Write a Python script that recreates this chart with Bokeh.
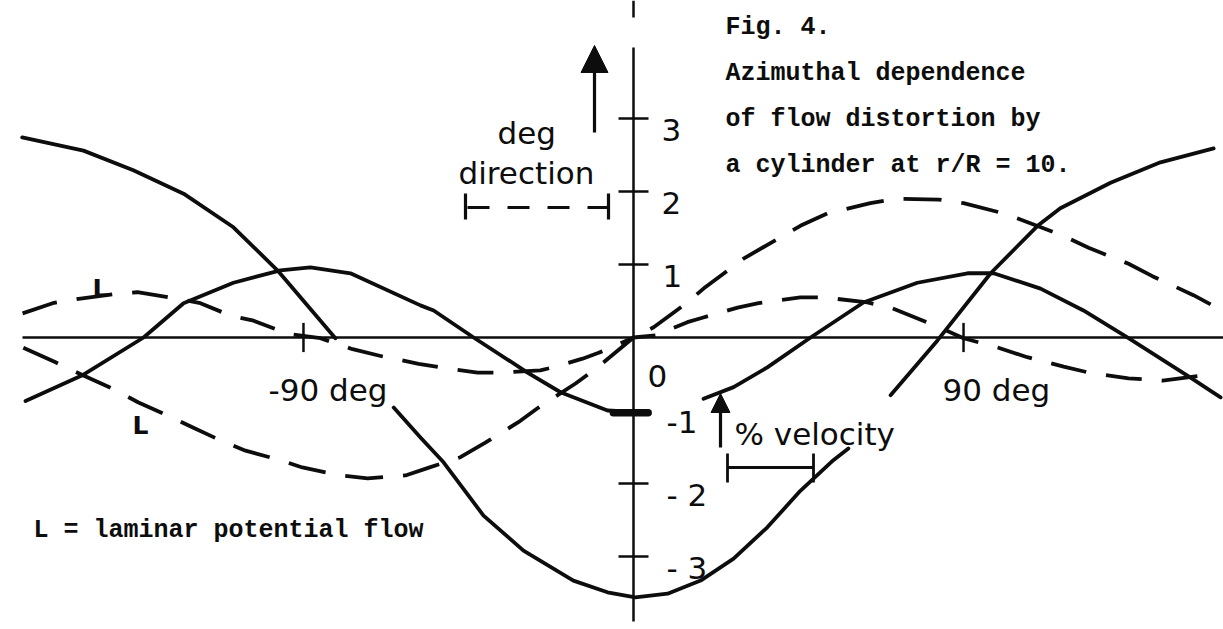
import math

from bokeh.plotting import figure
from bokeh.models import Range1d, Arrow, NormalHead
from bokeh.core.properties import value
from bokeh.embed import file_html
from bokeh.resources import INLINE

nan = math.nan

# ---------------------------------------------------------------------------
# Curves: azimuth (deg) and distortion value; NaN leaves a gap under a label
# ---------------------------------------------------------------------------
# solid, large amplitude
azimuth_a = [-166.7, -150.0, -136.4, -122.7, -109.1, -97.1, -81.3, nan,
             -65.4, -58.1, -51.8, -40.9, -30.0, -16.4, -7.1, 0.5,
             9.3, 18.3, 27.3, 36.5, 45.5, 54.5, 58.6, nan,
             70.1, 82.9, 97.4, 110.2, 116.4, 130.1, 143.7, 158.2]
value_a = [2.74, 2.56, 2.29, 1.97, 1.51, 0.92, -0.01, nan,
           -0.96, -1.37, -1.71, -2.44, -2.92, -3.33, -3.49, -3.56,
           -3.51, -3.33, -3.03, -2.60, -2.10, -1.68, -1.52, nan,
           -0.79, -0.04, 0.88, 1.53, 1.77, 2.12, 2.40, 2.59]

# solid, small amplitude
azimuth_b = [-165.8, -150.0, -133.6, -122.7, -109.1, -96.3, -88.1, -77.2,
             -58.1, -54.5, -43.6, -28.9, -19.9, -7.1, 3.8, nan,
             19.1, 27.3, 36.5, 48.3, 62.7, 77.4, 91.1, 98.2, 111.0, 122.7,
             135.0, 151.9, 160.1]
value_b = [-0.87, -0.51, 0.00, 0.47, 0.75, 0.92, 0.96, 0.88,
           0.44, 0.37, 0.00, -0.48, -0.75, -1.00, -1.03, nan,
           -0.84, -0.68, -0.41, 0.00, 0.48, 0.75, 0.88, 0.88, 0.67, 0.37,
           -0.01, -0.55, -0.82]

# short heavy stroke where the small solid curve meets -1
azimuth_stub = [-5.5, 4.0]
value_stub = [-1.03, -1.03]

# dashed, large amplitude
azimuth_c = [-166.4, -157.6, -150.0, -142.1, -135.0, -125.7, -120.3, -112.6,
             -105.8, -96.3, -90.3, -79.9, -72.5, -62.2, -56.2, -47.2, -40.4,
             -31.4, -25.9, -15.8, -9.8, 0.0, 5.5, 14.7, 19.1, 30.0, 45.5,
             52.9, 64.6, 71.4, 83.2, 90.0, 100.9, 106.4, 117.8, 124.1, 135.0,
             141.5, 152.7, 160.1]
value_c = [-0.14, -0.34, -0.52, -0.70, -0.89, -1.10, -1.23, -1.41,
           -1.55, -1.68, -1.78, -1.89, -1.93, -1.89, -1.79, -1.64, -1.44,
           -1.16, -0.96, -0.63, -0.41, 0.00, 0.14, 0.48, 0.67, 1.08, 1.53,
           1.70, 1.84, 1.90, 1.89, 1.84, 1.70, 1.60, 1.38, 1.23, 1.01,
           0.84, 0.58, 0.38]

# dashed, small amplitude
azimuth_d = [-166.6, -158.4, -151.3, -140.7, -135.3, -124.4, -118.1, -109.9,
             -103.6, -94.1, -85.4, -76.6, -68.4, -58.6, -52.6, -42.5, -36.3,
             -25.4, -22.1, -13.9, -9.5, 0.0, 6.0, 14.7, 18.8, 28.4, 34.1,
             45.5, 51.8, 63.8, 70.6, 81.0, 90.0, 99.5, 107.4, 117.3, 124.1,
             135.0, 144.3, 155.4]
value_d = [0.33, 0.47, 0.53, 0.60, 0.62, 0.53, 0.47, 0.30,
           0.23, 0.05, -0.01, -0.16, -0.26, -0.36, -0.41, -0.48, -0.48,
           -0.45, -0.41, -0.29, -0.21, 0.00, 0.03, 0.21, 0.27, 0.41, 0.47,
           0.55, 0.55, 0.48, 0.40, 0.19, -0.01, -0.14, -0.27, -0.40, -0.48,
           -0.56, -0.59, -0.52]

# axis ticks and their labels
deg_ticks = [-90, 90]
deg_tick_labels = ["-90 deg", "90 deg"]
val_ticks = [3, 2, 1, -1, -2, -3]
val_tick_labels = ["3", "2", "1", "-1", "- 2", "- 3"]

caption_lines = ["Fig. 4.",
                 "Azimuthal dependence",
                 "of flow distortion by",
                 "a cylinder at r/R = 10."]
footnote = "L = laminar potential flow"

# ---------------------------------------------------------------------------
# Canvas geometry
# ---------------------------------------------------------------------------
W, H = 1223, 629
X0, Y0 = 633.0, 337.0          # screen position of the origin
PX_PER_DEG = 3.667
PX_PER_UNIT = 73.0


def sx(px):
    """screen x (px from left) -> azimuth"""
    return (px - X0) / PX_PER_DEG


def sy(py):
    """screen y (px from top) -> value"""
    return (Y0 - py) / PX_PER_UNIT


INK = "#0d0d0d"
SANS = value("DejaVu Sans")
MONO = value("Liberation Mono")
CURVE_W = 3.8
AXIS_W = 2.5

p = figure(width=W, height=H,
           x_range=Range1d(sx(0), sx(W)), y_range=Range1d(sy(H), sy(0)),
           output_backend="svg", toolbar_location=None,
           x_axis_location=None, y_axis_location=None,
           min_border=0, outline_line_color=None,
           background_fill_color="white", border_fill_color="white")
p.grid.visible = False

# hand-drawn axes
p.line([sx(22), sx(W)], [0, 0], line_color=INK, line_width=AXIS_W)
p.line([0, 0], [sy(47), sy(621)], line_color=INK, line_width=AXIS_W)
p.line([0, 0], [sy(0), sy(17)], line_color=INK, line_width=AXIS_W)
p.segment(x0=deg_ticks, y0=[-0.2] * len(deg_ticks),
          x1=deg_ticks, y1=[0.2] * len(deg_ticks),
          line_color=INK, line_width=AXIS_W)
p.segment(x0=[-15 / PX_PER_DEG] * len(val_ticks), y0=val_ticks,
          x1=[15 / PX_PER_DEG] * len(val_ticks), y1=val_ticks,
          line_color=INK, line_width=AXIS_W)

# tick labels
p.text(x=deg_ticks, y=[sy(389)] * len(deg_ticks), text=deg_tick_labels,
       x_offset=[-35, -21], text_align="left", text_baseline="alphabetic",
       text_font=SANS, text_font_size=value("31px"), text_color=INK)
p.text(x=[0] * len(val_ticks), y=[v - 11.5 / PX_PER_UNIT for v in val_ticks],
       text=val_tick_labels, x_offset=[28, 28, 29, 33, 33, 33],
       text_align="left", text_baseline="alphabetic",
       text_font=SANS, text_font_size=value("31px"), text_color=INK)
p.text(x=[0], y=[sy(375)], text=["0"], x_offset=[14],
       text_align="left", text_baseline="alphabetic",
       text_font=SANS, text_font_size=value("31px"), text_color=INK)

# curves
p.line(azimuth_a, value_a, line_color=INK, line_width=CURVE_W,
       line_cap="round", line_join="round")
p.line(azimuth_b, value_b, line_color=INK, line_width=CURVE_W,
       line_cap="round", line_join="round")
p.line(azimuth_stub, value_stub, line_color=INK, line_width=7.5,
       line_cap="round")
p.line(azimuth_c, value_c, line_color=INK, line_width=CURVE_W,
       line_dash="38 20", line_join="round")
p.line(azimuth_d, value_d, line_color=INK, line_width=CURVE_W,
       line_dash="36 20", line_join="round")

# "L" markers beside the laminar curves
p.text(x=[sx(92), sx(132)], y=[sy(288), sy(425)], text=["L", "L"],
       text_align="left", text_baseline="alphabetic",
       text_font=SANS, text_font_style="bold",
       text_font_size=value("25px"), text_color=INK)

# direction scale: label, arrow and dashed bar
p.text(x=[sx(497), sx(458)], y=[sy(132), sy(172)], text=["deg", "direction"],
       text_align="left", text_baseline="alphabetic",
       text_font=SANS, text_font_size=value("31px"), text_color=INK)
p.add_layout(Arrow(end=NormalHead(size=27, fill_color=INK, line_color=INK),
                   x_start=sx(594), y_start=sy(132), x_end=sx(594), y_end=sy(45),
                   line_color=INK, line_width=3.2))
p.line([sx(467), sx(607)], [sy(207), sy(207)], line_color=INK, line_width=3.2,
       line_dash="22 18")
p.segment(x0=[sx(465), sx(608)], y0=[sy(193), sy(193)],
          x1=[sx(465), sx(608)], y1=[sy(219), sy(219)],
          line_color=INK, line_width=3.2)

# velocity scale: label, arrow and solid bar
p.text(x=[sx(734)], y=[sy(433)], text=["% velocity"],
       text_align="left", text_baseline="alphabetic",
       text_font=SANS, text_font_size=value("31px"), text_color=INK)
p.add_layout(Arrow(end=NormalHead(size=19, fill_color=INK, line_color=INK),
                   x_start=sx(720), y_start=sy(447), x_end=sx(720), y_end=sy(393),
                   line_color=INK, line_width=3.2))
p.line([sx(727), sx(813)], [sy(467), sy(467)], line_color=INK, line_width=2.8)
p.segment(x0=[sx(727), sx(813)], y0=[sy(453), sy(453)],
          x1=[sx(727), sx(813)], y1=[sy(482), sy(482)],
          line_color=INK, line_width=2.8)

# typed caption and footnote
p.text(x=[sx(725)] * len(caption_lines),
       y=[sy(27), sy(73), sy(119), sy(165)], text=caption_lines,
       text_align="left", text_baseline="alphabetic",
       text_font=MONO, text_font_style="bold",
       text_font_size=value("25px"), text_color=INK)
p.text(x=[sx(33)], y=[sy(530)], text=[footnote],
       text_align="left", text_baseline="alphabetic",
       text_font=MONO, text_font_style="bold",
       text_font_size=value("25px"), text_color=INK)

open("out.html", "w").write(file_html(p, INLINE))
